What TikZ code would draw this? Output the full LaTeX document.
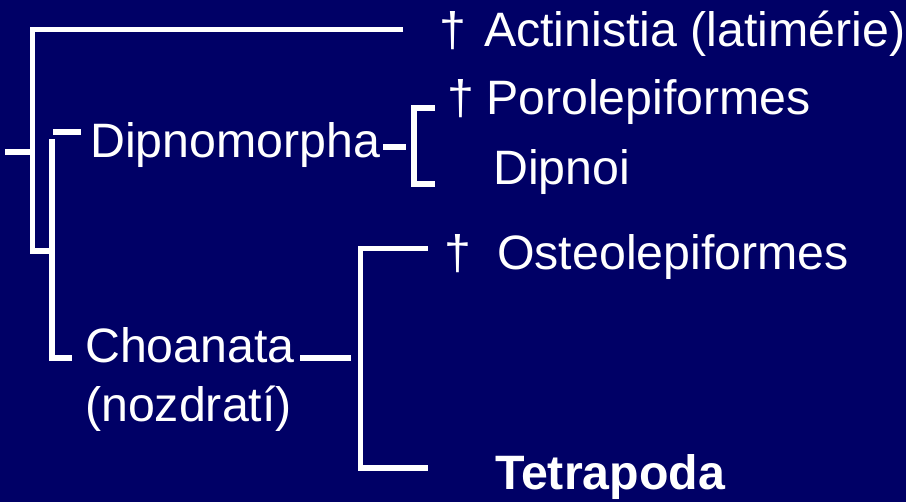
\documentclass[tikz,border=0pt]{standalone}
\usepackage{fontspec}
\setmainfont{Liberation Sans}
\definecolor{bg}{RGB}{0,0,102}
\begin{document}
\begin{tikzpicture}[x=1pt,y=-1pt,
  branch/.style={draw=white,line width=5.5pt,line cap=butt,line join=miter},
  taxon/.style={text=white,inner sep=0pt,anchor=base west,font=\fontsize{48.3}{58}\selectfont},
  dag/.style={text=white,inner sep=0pt,anchor=base,font=\fontsize{48.3}{58}\selectfont}]
\fill[bg] (0,0) rectangle (906,502);
\useasboundingbox (0,0) rectangle (906,502);

% taxa
\node[dag]   (d1)  at (452.5,47) {†};
\node[taxon] (act) at (484,47) {Actinistia (latimérie)};
\node[dag]   (d2)  at (460.5,115) {†};
\node[taxon] (por) at (486,115) {Porolepiformes};
\node[taxon] (dip) at (493,185) {Dipnoi};
\node[dag]   (d3)  at (457.5,270) {†};
\node[taxon] (ost) at (497,270) {Osteolepiformes};
\node[taxon,font=\bfseries\fontsize{48.3}{58}\selectfont] (tet) at (495,490) {Tetrapoda};
\node[taxon] (dmo) at (90,158) {Dipnomorpha};
\node[taxon] (cho) at (85,363) {Choanata};
\node[taxon] (noz) at (85,422) {(nozdratí)};

% tree points
\coordinate (root)   at (5,152);
\coordinate (n0)     at (32.5,152);
\coordinate (actend) at (403,29.5);
\coordinate (n0top)  at (32.5,29.5);
\coordinate (n0bot)  at (32.5,251);
\coordinate (n1join) at (52,251);
\coordinate (n1top)  at (52,139);
\coordinate (n1bot)  at (52,358);
\coordinate (choin)  at (72,358);
\coordinate (dmoin)  at (53,132);
\coordinate (dmost)  at (81,132);
\coordinate (dmoout) at (383,147);
\coordinate (n2)     at (406,147);
\coordinate (porend) at (435,108);
\coordinate (n2top)  at (414,108);
\coordinate (n2bot)  at (414,184);
\coordinate (dipend) at (435,184);
\coordinate (choout) at (300,358);
\coordinate (n3)     at (351,358);
\coordinate (ostend) at (428,248.5);
\coordinate (n3top)  at (360.5,248.5);
\coordinate (n3bot)  at (360.5,468);
\coordinate (tetend) at (428,468);

% branches
\draw[branch] (root) -- (n0);
\draw[branch] (actend) -- (n0top) -- (n0bot) -- (n1join);
\draw[branch] (n1top) -- (n1bot) -- (choin);
\draw[branch] (dmoin) -- (dmost);
\draw[branch] (dmoout) -- (n2);
\draw[branch] (porend) -- (n2top) -- (n2bot) -- (dipend);
\draw[branch] (choout) -- (n3);
\draw[branch] (ostend) -- (n3top) -- (n3bot) -- (tetend);
\end{tikzpicture}
\end{document}
